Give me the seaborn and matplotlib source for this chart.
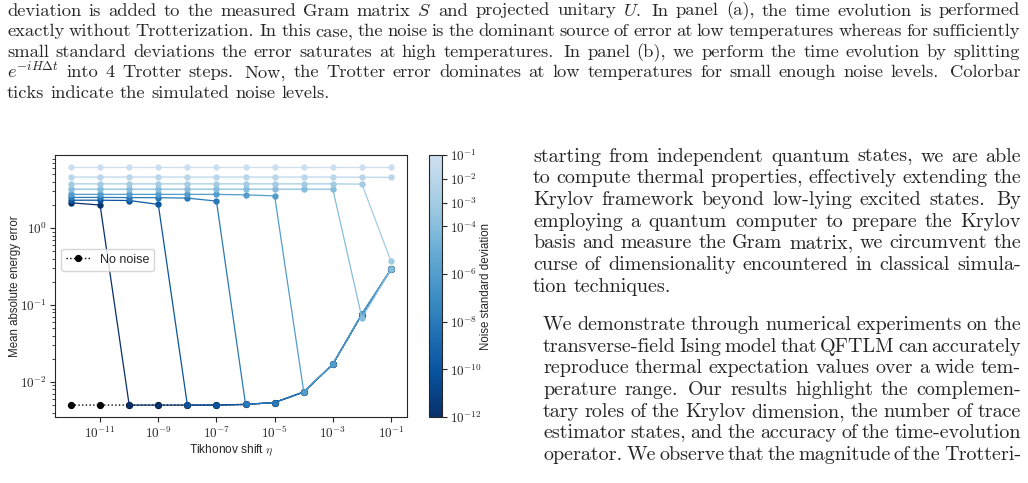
import numpy as np
import pandas as pd
import seaborn as sns
import matplotlib
matplotlib.use("Agg")
import matplotlib.pyplot as plt
from matplotlib.colors import LogNorm, ListedColormap
from matplotlib.cm import ScalarMappable
from matplotlib.ticker import NullLocator, FuncFormatter, NullFormatter

# data
eta = [1e-12, 1e-11, 1e-10, 1e-9, 1e-8, 1e-7, 1e-6, 1e-5, 1e-4, 1e-3, 1e-2, 1e-1]
eta_ticks = [1e-11, 1e-9, 1e-7, 1e-5, 1e-3, 1e-1]
err_ticks = [1e-2, 1e-1, 1e0]
noise_levels = [1e-12, 1e-10, 1e-8, 1e-6, 1e-4, 1e-3, 1e-2, 1e-1]
no_noise = [0.0050, 0.0050, 0.0050, 0.0050, 0.0050, 0.0050, 0.0051, 0.0054, 0.0074, 0.017, 0.075, 0.29]
err_1e12 = [2.13, 1.99, 0.0050, 0.0050, 0.0050, 0.0050, 0.0051, 0.0054, 0.0074, 0.017, 0.076, 0.29]
err_1e10 = [2.30, 2.30, 2.28, 2.03, 0.0050, 0.0050, 0.0051, 0.0054, 0.0074, 0.017, 0.076, 0.29]
err_1e8 = [2.50, 2.50, 2.49, 2.48, 2.45, 2.24, 0.0051, 0.0054, 0.0074, 0.017, 0.076, 0.29]
err_1e6 = [2.74, 2.74, 2.74, 2.74, 2.74, 2.74, 2.70, 2.62, 0.0075, 0.017, 0.077, 0.29]
err_1e4 = [3.20, 3.20, 3.20, 3.20, 3.20, 3.20, 3.20, 3.20, 3.20, 3.20, 0.068, 0.29]
err_1e3 = [3.75, 3.75, 3.75, 3.75, 3.75, 3.75, 3.75, 3.75, 3.75, 3.75, 3.72, 0.37]
err_1e2 = [4.60, 4.60, 4.60, 4.60, 4.60, 4.60, 4.60, 4.60, 4.60, 4.60, 4.58, 4.55]
err_1e1 = [6.25, 6.25, 6.25, 6.25, 6.25, 6.25, 6.25, 6.25, 6.25, 6.25, 6.25, 6.25]
all_err = [err_1e12, err_1e10, err_1e8, err_1e6, err_1e4, err_1e3, err_1e2, err_1e1]

caption = [
    "deviation is added to the measured Gram matrix $S$ and projected unitary $U$.  In panel (a), the time evolution is performed",
    "exactly without Trotterization. In this case, the noise is the dominant source of error at low temperatures whereas for sufficiently",
    "small standard deviations the error saturates at high temperatures.  In panel (b), we perform the time evolution by splitting",
    "$e^{-iH\\Delta{}t}$ into 4 Trotter steps.  Now, the Trotter error dominates at low temperatures for small enough noise levels.  Colorbar",
    "ticks indicate the simulated noise levels.",
]
para1 = [
    "starting from independent quantum states, we are able",
    "to compute thermal properties, effectively extending the",
    "Krylov framework beyond low-lying excited states. By",
    "employing a quantum computer to prepare the Krylov",
    "basis and measure the Gram matrix, we circumvent the",
    "curse of dimensionality encountered in classical simula-",
    "tion techniques.",
]
para2 = [
    "We demonstrate through numerical experiments on the",
    "transverse-field Ising model that QFTLM can accurately",
    "reproduce thermal expectation values over a wide tem-",
    "perature range. Our results highlight the complemen-",
    "tary roles of the Krylov dimension, the number of trace",
    "estimator states, and the accuracy of the time-evolution",
    "operator. We observe that the magnitude of the Trotteri-",
]

sns.set_style("ticks")
plt.rcParams["font.family"] = ["Liberation Sans", "DejaVu Sans"]
plt.rcParams["mathtext.fontset"] = "cm"

W, H = 1028, 483
fig = plt.figure(figsize=(W / 100, H / 100), dpi=100)

# long form table for seaborn
rows = []
for s, e in zip(noise_levels, all_err):
    for x, y in zip(eta, e):
        rows.append({"eta": x, "err": y, "noise": s})
df = pd.DataFrame(rows)

cmap = ListedColormap(sns.color_palette("Blues_r", as_cmap=True)(np.linspace(0, 0.78, 256)))
norm = LogNorm(1e-12, 1e-1)

# powers of ten in computer modern, like the latex figure
pow10 = FuncFormatter(lambda v, pos: "$10^{%d}$" % int(round(np.log10(v))))

ax = fig.add_axes([55 / W, 1 - 417 / H, 352 / W, 262 / H])
ax.plot(eta, no_noise, color="k", ls=":", lw=1.0, marker="o", ms=4.2, label="No noise", zorder=1)
sns.lineplot(data=df, x="eta", y="err", hue="noise", palette=cmap, hue_norm=norm,
             marker="o", markersize=4.6, markeredgewidth=0, linewidth=0.9,
             legend=False, ax=ax, zorder=2)
ax.set_xscale("log")
ax.set_yscale("log")
ax.set_xlim(10 ** -12.55, 10 ** -0.45)
ax.set_ylim(0.0035, 8.9)
ax.set_xticks(eta_ticks)
ax.set_yticks(err_ticks)
ax.xaxis.set_minor_locator(NullLocator())
ax.xaxis.set_major_formatter(pow10)
ax.yaxis.set_major_formatter(pow10)
ax.yaxis.set_minor_formatter(NullFormatter())
for sp in ax.spines.values():
    sp.set_linewidth(0.8)
ax.tick_params(labelsize=9.5, width=0.8, length=3.5, pad=2.5)
ax.tick_params(which="minor", width=0.6, length=2)
ax.set_xlabel("Tikhonov shift $\\eta$", fontsize=8.6, labelpad=1)
ax.set_ylabel("Mean absolute energy error", fontsize=8.3, labelpad=-1)
ax.legend(loc="center left", bbox_to_anchor=(0.0, 0.6), fontsize=9, handlelength=1.9)

cax = fig.add_axes([429 / W, 1 - 417 / H, 13 / W, 262 / H])
cb = fig.colorbar(ScalarMappable(norm=norm, cmap=cmap), cax=cax, ticks=noise_levels, format=pow10)
cb.minorticks_off()
cb.outline.set_linewidth(0.8)
cax.tick_params(labelsize=9.5, width=0.8, length=3.5, pad=2)
cb.set_label("Noise standard deviation", fontsize=8.3, labelpad=-1)

# page text around the figure
renderer = fig.canvas.get_renderer()


def put_line(line, x0, x1, ybase, size, last=False, indent=0):
    words = line.split()
    widths = []
    for w in words:
        t = fig.text(0.5, 0.5, w, fontsize=size, family="cmr10")
        widths.append(t.get_window_extent(renderer).width)
        t.remove()
    weights = [1.4 if w.endswith(".") else 1.0 for w in words[:-1]]
    if last or len(words) < 2:
        unit = size * 1.39 * 0.33
    else:
        unit = (x1 - x0 - indent - sum(widths)) / sum(weights)
    x = x0 + indent
    for i, (w, wd) in enumerate(zip(words, widths)):
        fig.text(x / W, 1 - ybase / H, w, fontsize=size, family="cmr10", va="baseline")
        if i < len(weights):
            x += wd + unit * weights[i]


for i, line in enumerate(caption):
    put_line(line, 7, 1020, 15.5 + 20.6 * i, 13.3, last=(i == len(caption) - 1))
for i, line in enumerate(para1):
    put_line(line, 533, 1021, 161.5 + 21.67 * i, 14.5, last=(i == len(para1) - 1))
for i, line in enumerate(para2):
    put_line(line, 533, 1021, 330 + 21.67 * i, 14.5, indent=10)

fig.savefig("out.png", dpi=100)
